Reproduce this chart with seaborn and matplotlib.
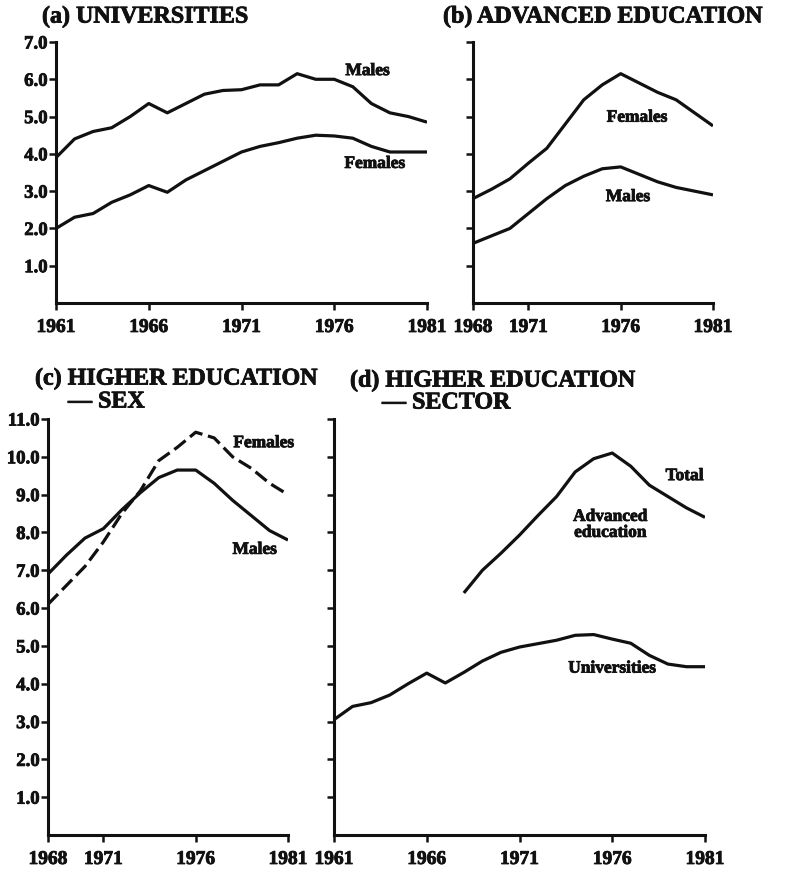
import matplotlib
matplotlib.use("Agg")
import matplotlib.pyplot as plt
import matplotlib.patheffects as pe
import seaborn as sns
import pandas as pd

# ---------------- data ----------------
years_61 = list(range(1961, 1982))
years_68 = list(range(1968, 1982))

# (a) Universities
uni_males = [3.9, 4.4, 4.6, 4.7, 5.0, 5.35, 5.1, 5.35, 5.6, 5.7, 5.72,
             5.85, 5.85, 6.15, 6.0, 6.0, 5.8, 5.35, 5.1, 5.0, 4.85]
uni_females = [2.0, 2.3, 2.4, 2.7, 2.9, 3.15, 2.97, 3.3, 3.55, 3.8, 4.05,
               4.2, 4.3, 4.42, 4.5, 4.48, 4.42, 4.2, 4.05, 4.05, 4.05]

# (b) Advanced education
adv_females = [2.8, 3.05, 3.33, 3.75, 4.15, 4.8, 5.45, 5.85, 6.15, 5.9,
               5.65, 5.45, 5.1, 4.75]
adv_males = [1.6, 1.8, 2.0, 2.4, 2.8, 3.15, 3.4, 3.6, 3.65, 3.45, 3.25,
             3.1, 3.0, 2.9]

# (c) Higher education - sex
he_males = [6.9, 7.4, 7.85, 8.1, 8.6, 9.05, 9.45, 9.65, 9.65, 9.3, 8.85,
            8.45, 8.05, 7.8]
he_females = [6.1, 6.6, 7.1, 7.75, 8.5, 9.1, 9.9, 10.25, 10.65, 10.5, 10.0,
              9.7, 9.3, 9.0]

# (d) Higher education - sector
sec_total = [6.4, 7.0, 7.45, 7.93, 8.45, 8.95, 9.6, 9.95, 10.1, 9.75, 9.25,
             8.95, 8.65, 8.4]
sec_universities = [3.05, 3.4, 3.5, 3.7, 4.0, 4.28, 4.02, 4.3, 4.6, 4.83,
                    4.97, 5.06, 5.15, 5.28, 5.3, 5.18, 5.07, 4.75, 4.52,
                    4.45, 4.45]

xticks_a = [1961, 1966, 1971, 1976, 1981]
xticks_b = [1968, 1971, 1976, 1981]
yticks_7 = [1, 2, 3, 4, 5, 6, 7]
yticks_11 = [1, 2, 3, 4, 5, 6, 7, 8, 9, 10, 11]

titles = ["(a) UNIVERSITIES", "(b) ADVANCED EDUCATION",
          "(c) HIGHER EDUCATION", "— SEX",
          "(d) HIGHER EDUCATION", "— SECTOR"]

# ---------------- style ----------------
sns.set_theme(style="ticks")
plt.rcParams['font.family'] = ['Liberation Serif', 'DejaVu Serif']
plt.rcParams['font.weight'] = 'bold'

INK = "#111111"
LW = 2.3
HEAVY = [pe.withStroke(linewidth=0.6, foreground=INK)]

fig = plt.figure(figsize=(8.07, 8.70), dpi=100)
fig.patch.set_facecolor("white")

W, H = 807.0, 870.0


def px_axes(left, right, top, bottom):
    return fig.add_axes([left / W, 1 - bottom / H, (right - left) / W,
                         (bottom - top) / H])


ax_a = px_axes(56, 427, 43, 304)
ax_b = px_axes(473, 713, 43, 304)
ax_c = px_axes(48, 288, 420, 836)
ax_d = px_axes(334, 705, 420, 836)


def plot_series(ax, xs, ys, dashed=False):
    df = pd.DataFrame({"year": xs, "value": ys})
    sns.lineplot(data=df, x="year", y="value", ax=ax, color=INK,
                 linewidth=LW, linestyle=(0, (4.5, 1.8)) if dashed else "-",
                 solid_joinstyle="round", solid_capstyle="butt")


def style_axes(ax, xlim, ylim, xticks, yticks, ylabels=True):
    ax.set_xlim(*xlim)
    ax.set_ylim(*ylim)
    ax.set_xticks(xticks)
    ax.set_xticklabels([str(t) for t in xticks])
    ax.set_yticks(yticks)
    if ylabels:
        ax.set_yticklabels([f"{t:.1f}" for t in yticks])
    else:
        ax.set_yticklabels([])
    ax.set_xlabel("")
    ax.set_ylabel("")
    for s in ["top", "right"]:
        ax.spines[s].set_visible(False)
    for s in ["left", "bottom"]:
        ax.spines[s].set_linewidth(2.2)
        ax.spines[s].set_color(INK)
    ax.tick_params(axis="both", direction="out", length=5, width=1.8,
                   color=INK, labelcolor=INK, labelsize=14)
    ax.tick_params(axis="x", pad=6.5)
    ax.tick_params(axis="y", labelsize=13.5, pad=1.0)
    for lab in ax.get_xticklabels() + ax.get_yticklabels():
        lab.set_fontweight("bold")
        lab.set_path_effects(HEAVY)
    ax.set_facecolor("white")
    ax.grid(False)


def label(ax, x, y, s, **kw):
    ax.text(x, y, s, ha="center", va="center", fontsize=12.5,
            fontweight="bold", color=INK, path_effects=HEAVY, **kw)


# (a)
plot_series(ax_a, years_61, uni_males)
plot_series(ax_a, years_61, uni_females)
style_axes(ax_a, (1961, 1981), (0, 7), xticks_a, yticks_7)
label(ax_a, 1977.8, 6.22, "Males")
label(ax_a, 1978.2, 3.73, "Females")

# (b)
plot_series(ax_b, years_68, adv_females)
plot_series(ax_b, years_68, adv_males)
style_axes(ax_b, (1968, 1981), (0, 7), xticks_b, yticks_7, ylabels=False)
label(ax_b, 1976.9, 4.97, "Females")
label(ax_b, 1976.4, 2.84, "Males")

# (c)
plot_series(ax_c, years_68, he_males)
plot_series(ax_c, years_68, he_females, dashed=True)
style_axes(ax_c, (1968, 1981), (0, 11), xticks_b, yticks_11)
label(ax_c, 1979.7, 10.36, "Females")
label(ax_c, 1979.2, 7.54, "Males")

# (d)
plot_series(ax_d, years_68, sec_total)
plot_series(ax_d, years_61, sec_universities)
style_axes(ax_d, (1961, 1981), (0, 11), xticks_a, yticks_11, ylabels=False)
label(ax_d, 1979.9, 9.49, "Total")
label(ax_d, 1975.9, 8.2, "Advanced\neducation", linespacing=1.0)
label(ax_d, 1976.0, 4.4, "Universities")

# titles
TS = 17.3


def title(x, y, s):
    fig.text(x / W, 1 - y / H, s, ha="left", va="center", fontsize=TS,
             fontweight="bold", color=INK, path_effects=HEAVY)


title(42, 18, titles[0])
title(443, 18, titles[1])
title(35, 380, titles[2])
title(68, 403, titles[3])
title(350, 382, titles[4])
title(382, 404, titles[5])

fig.savefig("out.png", dpi=100, facecolor="white")
